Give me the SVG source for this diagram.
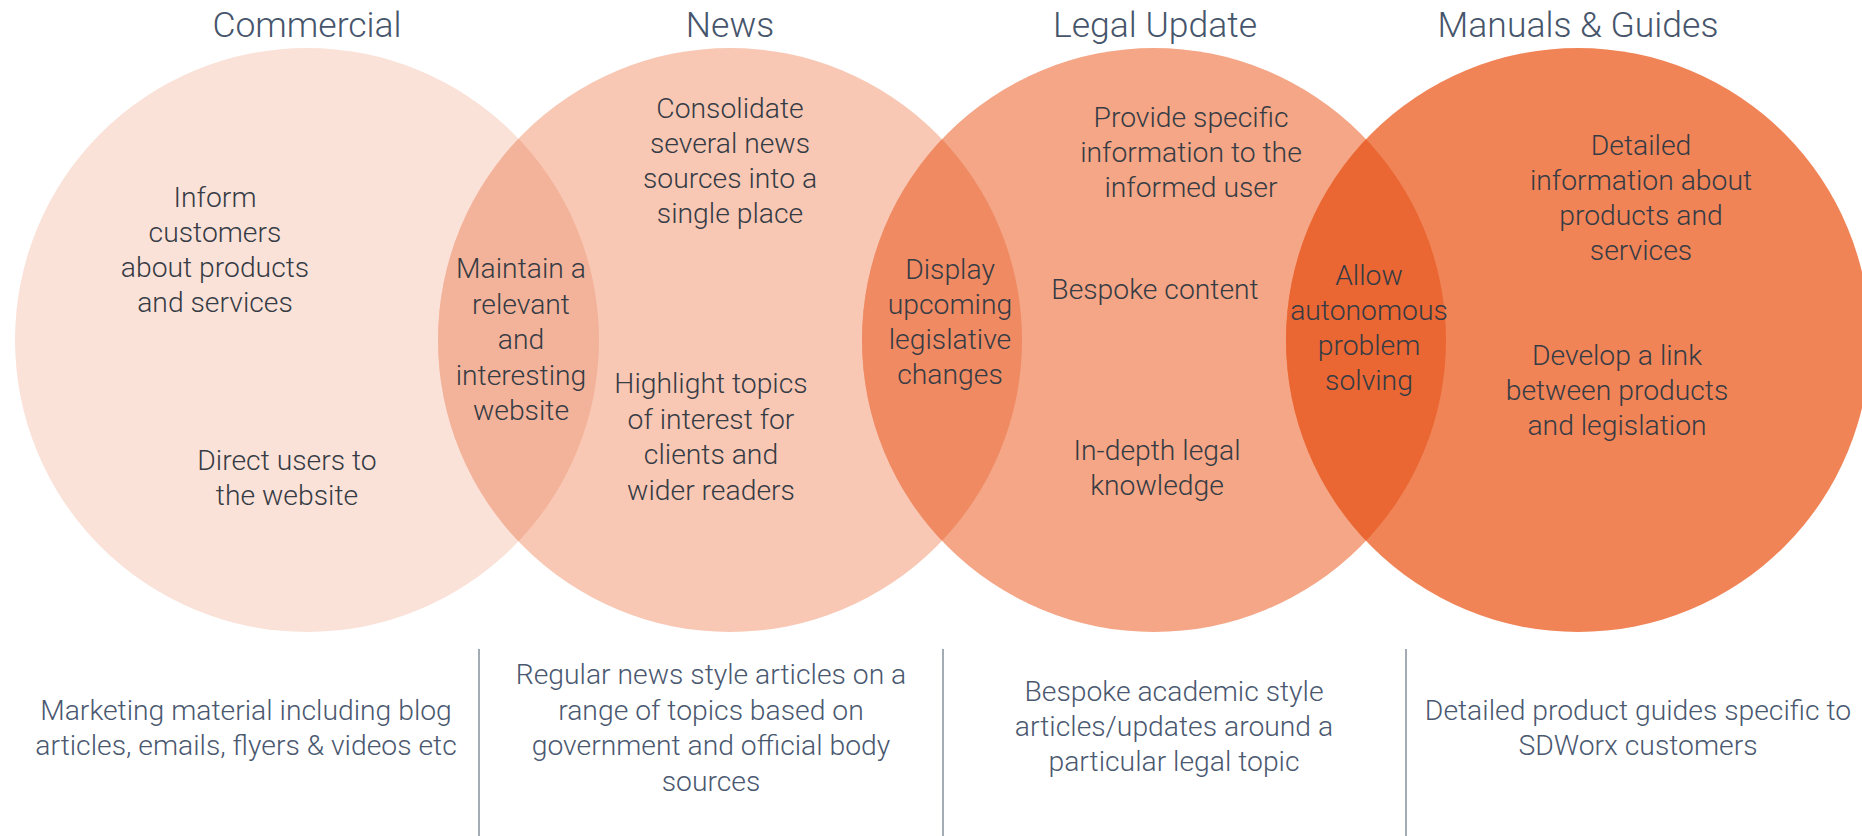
<svg xmlns="http://www.w3.org/2000/svg" width="1862" height="836" viewBox="0 0 1862 836">
  <style>
    .title { font-family: Roboto, "Liberation Sans", Arial, sans-serif; font-weight: 300; font-size: 35.5px; fill: #46556b; text-anchor: middle; }
    .body { font-family: Roboto, "Liberation Sans", Arial, sans-serif; font-weight: 300; font-size: 28.3px; fill: #363b44; text-anchor: middle; }
    .note { font-family: Roboto, "Liberation Sans", Arial, sans-serif; font-weight: 300; font-size: 28.3px; fill: #4a5870; text-anchor: middle; }
    .divider { stroke: #a3abb5; stroke-width: 2; }
  </style>
  <defs>
    <clipPath id="clip-commercial"><circle cx="307" cy="340" r="292"/></clipPath>
    <clipPath id="clip-news"><circle cx="730" cy="340" r="292"/></clipPath>
    <clipPath id="clip-legal"><circle cx="1154" cy="340" r="292"/></clipPath>
  </defs>
  <rect width="1862" height="836" fill="#ffffff"/>

  <!-- Venn circles -->
  <g id="commercial">
    <circle cx="307" cy="340" r="292" fill="#fae2d9"/>
  </g>
  <g id="news">
    <circle cx="730" cy="340" r="292" fill="#f8c8b5"/>
  </g>
  <g id="legal-update">
    <circle cx="1154" cy="340" r="292" fill="#f4a686"/>
  </g>
  <g id="manuals-guides">
    <circle cx="1578" cy="340" r="292" fill="#f08457"/>
  </g>

  <!-- Overlap lenses -->
  <g id="overlaps">
    <circle cx="730" cy="340" r="292" fill="#f3b39a" clip-path="url(#clip-commercial)"/>
    <circle cx="1154" cy="340" r="292" fill="#ef8a62" clip-path="url(#clip-news)"/>
    <circle cx="1578" cy="340" r="292" fill="#ea6733" clip-path="url(#clip-legal)"/>
  </g>

  <!-- Headings -->
  <g id="headings">
    <text class="title" x="307" y="37">Commercial</text>
    <text class="title" x="730" y="37">News</text>
    <text class="title" x="1155" y="37">Legal Update</text>
    <text class="title" x="1578" y="37">Manuals &amp; Guides</text>
  </g>

  <!-- Circle contents -->
  <g id="commercial-text">
    <text class="body" x="215" y="207">Inform<tspan x="215" dy="35">customers</tspan><tspan x="215" dy="35">about products</tspan><tspan x="215" dy="35">and services</tspan></text>
    <text class="body" x="287" y="470">Direct users to<tspan x="287" dy="35">the website</tspan></text>
  </g>
  <g id="commercial-news-text">
    <text class="body" x="521" y="278">Maintain a<tspan x="521" dy="35.5">relevant</tspan><tspan x="521" dy="35.5">and</tspan><tspan x="521" dy="35.5">interesting</tspan><tspan x="521" dy="35.5">website</tspan></text>
  </g>
  <g id="news-text">
    <text class="body" x="730" y="118">Consolidate<tspan x="730" dy="35">several news</tspan><tspan x="730" dy="35">sources into a</tspan><tspan x="730" dy="35">single place</tspan></text>
    <text class="body" x="711" y="393">Highlight topics<tspan x="711" dy="35.5">of interest for</tspan><tspan x="711" dy="35.5">clients and</tspan><tspan x="711" dy="35.5">wider readers</tspan></text>
  </g>
  <g id="news-legal-text">
    <text class="body" x="950" y="279">Display<tspan x="950" dy="35">upcoming</tspan><tspan x="950" dy="35">legislative</tspan><tspan x="950" dy="35">changes</tspan></text>
  </g>
  <g id="legal-text">
    <text class="body" x="1191" y="127">Provide specific<tspan x="1191" dy="35">information to the</tspan><tspan x="1191" dy="35">informed user</tspan></text>
    <text class="body" x="1155" y="299">Bespoke content</text>
    <text class="body" x="1157" y="460">In-depth legal<tspan x="1157" dy="35">knowledge</tspan></text>
  </g>
  <g id="legal-manuals-text">
    <text class="body" x="1369" y="285">Allow<tspan x="1369" dy="35">autonomous</tspan><tspan x="1369" dy="35">problem</tspan><tspan x="1369" dy="35">solving</tspan></text>
  </g>
  <g id="manuals-text">
    <text class="body" x="1641" y="155">Detailed<tspan x="1641" dy="35">information about</tspan><tspan x="1641" dy="35">products and</tspan><tspan x="1641" dy="35">services</tspan></text>
    <text class="body" x="1617" y="365">Develop a link<tspan x="1617" dy="35">between products</tspan><tspan x="1617" dy="35">and legislation</tspan></text>
  </g>

  <!-- Column dividers -->
  <g id="dividers">
    <line class="divider" x1="479" y1="649" x2="479" y2="836"/>
    <line class="divider" x1="943" y1="649" x2="943" y2="836"/>
    <line class="divider" x1="1406" y1="649" x2="1406" y2="836"/>
  </g>

  <!-- Column descriptions -->
  <g id="descriptions">
    <text class="note" x="246" y="720">Marketing material including blog<tspan x="246" dy="35">articles, emails, flyers &amp; videos etc</tspan></text>
    <text class="note" x="711" y="684">Regular news style articles on a<tspan x="711" dy="35.5">range of topics based on</tspan><tspan x="711" dy="35.5">government and official body</tspan><tspan x="711" dy="35.5">sources</tspan></text>
    <text class="note" x="1174" y="701">Bespoke academic style<tspan x="1174" dy="35">articles/updates around a</tspan><tspan x="1174" dy="35">particular legal topic</tspan></text>
    <text class="note" x="1638" y="720">Detailed product guides specific to<tspan x="1638" dy="35">SDWorx customers</tspan></text>
  </g>
</svg>
